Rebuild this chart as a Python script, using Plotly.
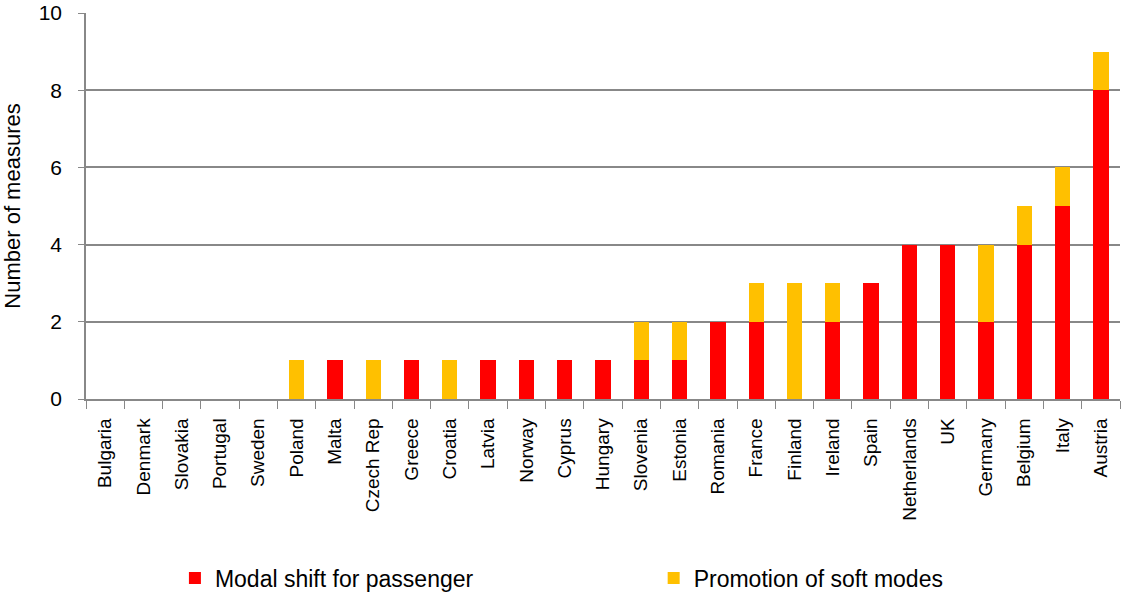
import plotly.graph_objects as go

countries = ["Bulgaria", "Denmark", "Slovakia", "Portugal", "Sweden", "Poland", "Malta",
             "Czech Rep", "Greece", "Croatia", "Latvia", "Norway", "Cyprus", "Hungary",
             "Slovenia", "Estonia", "Romania", "France", "Finland", "Ireland", "Spain",
             "Netherlands", "UK", "Germany", "Belgium", "Italy", "Austria"]
modal_shift = [0, 0, 0, 0, 0, 0, 1, 0, 1, 0, 1, 1, 1, 1, 1, 1, 2, 2, 0, 2, 3, 4, 4, 2, 4, 5, 8]
soft_modes = [0, 0, 0, 0, 0, 1, 0, 1, 0, 1, 0, 0, 0, 0, 1, 1, 0, 1, 3, 1, 0, 0, 0, 2, 1, 1, 1]
y_ticks = [0, 2, 4, 6, 8, 10]

FONT = "Liberation Sans, Arial, sans-serif"

fig = go.Figure()
fig.add_trace(go.Bar(x=countries, y=modal_shift, name="Modal shift for passenger",
                     marker=dict(color="#FF0000", line=dict(width=0)), legend="legend",
                     showlegend=True))
fig.add_trace(go.Bar(x=countries, y=soft_modes, name="Promotion of soft modes",
                     marker=dict(color="#FFC000", line=dict(width=0)), legend="legend2",
                     showlegend=True))

leg_common = dict(orientation="h", y=-0.4637, yanchor="middle", xanchor="left",
                  font=dict(size=23, family=FONT), itemwidth=30, bgcolor="rgba(0,0,0,0)")

fig.update_layout(
    barmode="stack",
    bargap=0.6,
    showlegend=True,
    width=1121, height=596,
    margin=dict(l=86, r=1, t=13, b=197, autoexpand=False),
    plot_bgcolor="white", paper_bgcolor="white",
    font=dict(family=FONT, color="black"),
    legend=dict(x=0.086, **leg_common),
    legend2=dict(x=0.549, **leg_common),
    xaxis=dict(
        tickangle=-90, tickfont=dict(size=19), showline=True, linecolor="#888888",
        linewidth=1.5, ticks="outside", tickson="boundaries", ticklen=8,
        tickcolor="#888888", showgrid=False, automargin=False, ticklabelstandoff=10,
    ),
    yaxis=dict(
        range=[0, 10], tickvals=y_ticks, tickfont=dict(size=21), showline=True,
        linecolor="#888888", linewidth=1.5, ticks="outside", ticklen=6,
        tickcolor="#888888", gridcolor="#888888", gridwidth=1.5, zeroline=False,
        automargin=False, ticklabelstandoff=12,
        title=dict(text="Number of measures", font=dict(size=22), standoff=20),
    ),
)

fig.write_html("out.html", config={"displayModeBar": False},
               post_script="document.body.style.margin='0';")
